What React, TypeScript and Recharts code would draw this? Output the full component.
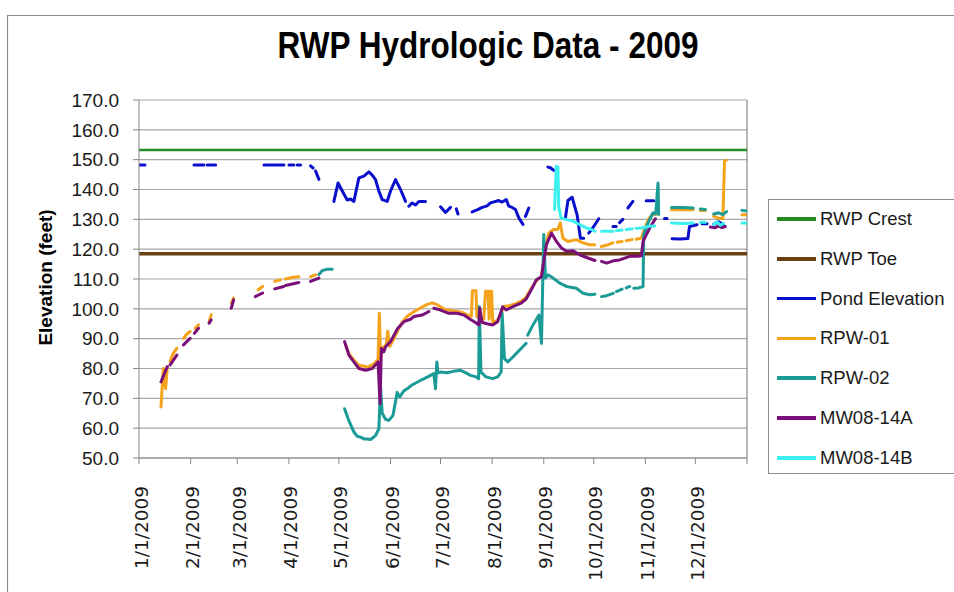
import React from 'react';
import { LineChart, Line, XAxis, YAxis, CartesianGrid, ReferenceLine } from 'recharts';

type Pt = [number, number | null];

// day of year (0 = 1/1/2009) → value in feet; null breaks the line
const monthTicks = [0, 31, 59, 90, 120, 151, 181, 212, 243, 273, 304, 334, 365];
const monthLabels = [
  '1/1/2009', '2/1/2009', '3/1/2009', '4/1/2009', '5/1/2009', '6/1/2009',
  '7/1/2009', '8/1/2009', '9/1/2009', '10/1/2009', '11/1/2009', '12/1/2009', '',
];
const elevationTicks = [50, 60, 70, 80, 90, 100, 110, 120, 130, 140, 150, 160, 170];

const rwpCrest: Pt[] = [[0, 153.2], [365, 153.2]];
const rwpToe: Pt[] = [[0, 118.5], [365, 118.5]];

const pondElevation: Pt[] = [
  [0, 148.2], [3.6, 148.2], [4, null],
  [33, 148.2], [39, 148.2], [39.5, null], [41, 148.2], [46, 148.2], [47, null],
  [75, 148.2], [87, 148.2], [88, null],
  [90, 148.2], [93, 148.2], [93.5, null], [95, 148.2], [97, 148.2], [98, null],
  [103, 147.9], [104.5, 147.2], [105, null], [106, 146.2], [108, 143.4], [109, null],
  [117, 136.0], [119.5, 142.2], [123, 138.5], [125, 136.5], [127, 136.8], [129, 136], [132, 143.9],
  [135, 144.5], [138, 145.9], [140, 144.8], [142, 143.3], [144, 139.5], [146, 136.6], [149, 136],
  [151, 139.5], [154, 143.3], [157, 140], [160, 136], [160.8, null],
  [162, 134.4], [164, 135.5], [166, 134.8], [168, 136], [172, 136], [173, null],
  [181, 134.2], [184, 132.3], [187, 134], [188, null], [190.5, 133.5], [191.5, 131.8], [192, null],
  [200, 132.5], [203, 133.2], [206, 134], [209, 134.5], [211, 135.5], [214, 136], [216, 136.3],
  [218, 135.8], [220.5, 136.6], [222, 134.4], [224, 134], [226, 133.3], [228, 130.5], [230.5, 128.3],
  [231, null], [232, 131], [234, 133.8], [235, null],
  [245.5, 147.5], [247, 147.3], [249, 146.4], [249.5, null],
  [256, 130.5], [257.5, 136.3], [260, 137.4], [263, 131.5], [265, 123.7], [267, 123.7], [268, null],
  [270, 125.4], [273, 127.6], [276, 130.2], [277, null],
  [284.5, 127.6], [286.5, 127.6], [287, null],
  [288.5, 128.9], [290.5, 130], [291, null],
  [293.5, 133.8], [296.5, 136], [297, null],
  [304.5, 136.2], [309, 136.2], [310, null],
  [315.5, 130.3], [317, 130.3], [317.5, null],
  [320, 123.5], [325, 123.4], [329.5, 123.6], [330.5, 127.6], [335, 128.2], [336, null],
  [338, 128.5], [341, 128.5], [342, null],
  [345, 128.3], [348, 129.2], [351, 128], [352, null],
];

const rpw01: Pt[] = [
  [13.2, 67.1], [14.6, 80.0], [16, 73.3], [17, 80.6], [17.8, null],
  [18.7, 82.3], [20.5, 85], [22.7, 86.8], [23.5, null],
  [26.7, 90.1], [28.5, 91.4], [30.7, 92.4], [31.5, null],
  [33.7, 93.5], [35.7, 94.6], [37, null],
  [42.1, 95.7], [43.3, 98], [44, null],
  [55.4, 101.9], [56.8, 103.6], [58, null],
  [71.5, 106.4], [74.2, 107.5], [76, null],
  [81.5, 109.2], [84.9, 109.7], [86, null],
  [87.9, 110], [92, 110.5], [95.9, 110.8], [98, null],
  [103, 110.8], [106, 111.4], [107, null],
  [124, 88.0], [126, 85], [128, 83.5], [131, 81.5], [133, 81], [137, 80.5], [141, 81.5], [143.5, 83],
  [144.3, 98.5], [145, 83], [146, 86.8], [148.5, 88], [149.3, 92.5], [150.5, 87.4], [153, 90],
  [155, 92.4], [158, 95.5], [161, 97.5], [165, 99], [169, 100.3], [173, 101.5], [176, 102],
  [179, 101.4], [184, 99.7], [188, 99.4], [191, 99.1], [194, 98.8], [197, 98], [199.5, 97.5],
  [200.2, 106.1], [202.3, 106.1], [202.8, 97.5], [204, 97], [207, 96.5], [208, 105.9], [209.5, 105.9],
  [210.2, 96.5], [210.8, 105.9], [211.7, 105.9], [212.3, 95.7], [215, 96], [217, 98], [219, 100.8],
  [222, 101], [227, 101.9], [230, 102.8], [232, 103.6], [235, 106.4], [239, 109.7], [241.6, 110.8],
  [243.5, 119.3], [246, 125.4], [248.8, 126.6], [251.4, 126.6], [252.9, 128.8], [254.5, 123.7],
  [257.5, 122.6], [262.5, 123.2], [266.5, 122.1], [270.5, 121.5], [273.5, 121.5], [275, null],
  [277.5, 120.9], [280, 121.2], [284.5, 122.1], [285.5, null], [287, 122.3], [290, 122.6], [291, null],
  [292.5, 122.8], [296, 123.2], [297, null], [298.5, 123.3], [301.6, 123.7], [303.6, 127.1],
  [306, 130.2], [308, 131.5], [311, 131.8], [312, null],
  [319.7, 133.2], [326, 133.3], [332.7, 133.2], [333.5, null],
  [337, 133], [340, 133], [341, null],
  [345, 131], [348, 130.4], [350.5, 130.2], [351.5, 149.5], [352.5, 149.8], [353, null],
  [362, 131.5], [365, 131.5],
];

const rpw02: Pt[] = [
  [108, 111.5], [110, 112.8], [113, 113.3], [116, 113.3], [117, null],
  [123.4, 66.5], [126, 62.5], [129, 58.7], [131, 57.3], [133, 57], [135, 56.4], [137, 56.4],
  [139, 56.2], [142, 57.5], [144, 59.8], [145, 74], [146, 65], [148, 63], [150, 62.6], [152.5, 64.3],
  [155, 72], [156.5, 70.5], [159, 72.5], [161, 73.2], [164, 74.5], [167, 75.4], [170, 76.3],
  [173, 77.1], [177, 78.3], [178, 73.2], [178.8, 82.2], [179.5, 78.5], [181, 78.8], [185, 78.6],
  [187, 78.8], [190, 79.2], [193, 79.4], [196, 78.6], [199, 77.7], [202.3, 77.2], [203.9, 76.6],
  [204.3, 100.7], [205.3, 78.8], [208.3, 77.2], [212.3, 76.6], [215.3, 77.2], [217.4, 78.8],
  [218, 98.5], [219.4, 83.3], [221.4, 82.2], [225.4, 84.4], [230.4, 87.3], [232.4, 88.4], [233, null],
  [233.4, 91.2], [236.5, 94.6], [240.1, 97.9], [241.6, 88.4], [243, 124.9], [244, 110.3],
  [245.5, 111.4], [248.6, 110.3], [252.6, 108.6], [256.6, 107.5], [262.6, 106.9], [266.6, 105.2],
  [270.6, 104.7], [273.7, 104.9], [275, null],
  [277.7, 104.1], [280.7, 104.4], [284.7, 105.2], [285.5, null], [286.6, 105.8], [290, 106.6], [291, null],
  [292.5, 107], [294.6, 107.5], [295.5, null], [297, 106.9], [300, 107], [302.6, 107.5], [303, 124.9],
  [305.6, 128.8], [308.6, 132.2], [310.2, 131.8], [311.6, 142.2], [312, 131.6], [313, null],
  [319.7, 134], [326, 134], [332.7, 133.8], [333.5, null],
  [337, 133.5], [340, 133.3], [341, null],
  [345, 131.8], [348, 132.2], [350.5, 131.6], [352.8, 132.6], [353.5, null],
  [362, 133], [365, 132.8],
];

const mw0814a: Pt[] = [
  [13.2, 75.5], [15.7, 78.9], [17, 80.6], [17.8, null],
  [18.7, 81.2], [22.7, 84.5], [23.5, null],
  [26.7, 87.9], [30.7, 90.1], [31.5, null],
  [33.3, 91.8], [35.7, 93.5], [37, null],
  [42.1, 95.2], [43.3, 96.3], [44, null],
  [55.4, 100.2], [56.8, 103], [58, null],
  [69.8, 104.1], [74.2, 105.3], [76, null],
  [81.5, 106.7], [86.9, 107.5], [87.5, null],
  [87.9, 107.8], [92, 108.3], [95.9, 108.8], [98, null],
  [103, 109.2], [108, 110.3], [109, null],
  [123.4, 89.0], [126, 84.5], [129, 82.2], [132, 80.0], [136, 79.4], [140, 80.0], [143.5, 82.2],
  [144.7, 68.2], [145.5, 86.7], [147, 85.6], [148, 87.3], [151, 89], [155, 93.2], [159, 95.7],
  [163, 96.5], [165, 97.4], [170, 97.9], [174, 99.1], [175, null],
  [177, 100.2], [181, 99.6], [186, 98.5], [191, 98.5], [195, 97.9], [199, 96.4], [202, 95.4],
  [204, 94.6], [204.6, 100.2], [205.9, 95.5], [208.3, 95.1], [212.3, 94.6], [215.3, 95.7],
  [218.3, 100.7], [220.4, 99.6], [224.4, 100.7], [229.4, 101.9], [232.4, 103.3], [235.5, 106.4],
  [238.5, 109.7], [241.6, 110.8], [243, 115.9], [244.6, 121.5], [247.6, 125.4], [250.6, 122.6],
  [253.6, 120.4], [256.6, 119.3], [260.6, 119.5], [264.6, 118.1], [268.7, 117.2], [273.7, 116.2],
  [275, null],
  [277.7, 115.9], [280.7, 115.3], [284.7, 116.1], [288.6, 116.4], [294.6, 117.6], [299.6, 117.6],
  [301.6, 117.8], [302.6, 122.6], [304.6, 124.9], [307, 127.5], [310, 130.2], [311, null],
  [343, 127.4], [346, 127.2], [348, 127.8], [350, 127.2], [352, 127.6], [353, null],
];

const mw0814b: Pt[] = [
  [249.5, 133.3], [250.5, 147.8], [251.5, 147.5], [252, 133.9], [253.4, 130.5], [256.6, 129.9],
  [260.6, 129.4], [264.6, 128.2], [268.7, 127.1], [271.7, 126.6], [273.7, 126.0], [275, null],
  [277.7, 126.0], [284.7, 126.0], [285.5, null], [286.6, 126.2], [290, 126.4], [291, null],
  [292.5, 126.6], [296, 126.8], [297, null], [298.5, 127], [301.6, 127.1], [306.6, 127.7],
  [309.6, 127.8], [310.5, null],
  [319.7, 128.8], [326, 128.6], [332.7, 128.8], [333.5, null],
  [337, 129], [340, 129], [341, null],
  [345, 128.2], [347, 129.2], [349, 128], [351, 128.6], [352, null],
  [362, 128.8], [365, 128.8],
];

const series = [
  { name: 'RWP Crest', color: '#228b22', width: 2.5, points: rwpCrest },
  { name: 'RWP Toe', color: '#6b3e12', width: 3.5, points: rwpToe },
  { name: 'Pond Elevation', color: '#0a0fcc', width: 3, points: pondElevation },
  { name: 'RPW-01', color: '#f5a31a', width: 3, points: rpw01 },
  { name: 'RPW-02', color: '#1a9b96', width: 3, points: rpw02 },
  { name: 'MW08-14A', color: '#7a0f7a', width: 3, points: mw0814a },
  { name: 'MW08-14B', color: '#3cf0f0', width: 3, points: mw0814b },
];

const toRows = (pts: Pt[]) => pts.map(([d, v]) => ({ d, v }));

const DateTick = (props: any) => {
  const { x, y, payload } = props;
  const label = monthLabels[monthTicks.indexOf(payload.value)] ?? '';
  return (
    <text
      x={x + 2}
      y={y}
      transform={`rotate(-90 ${x + 2} ${y})`}
      textAnchor="end"
      dominantBaseline="central"
      fontFamily="'DejaVu Sans', sans-serif"
      fontSize={18.5}
      fill="#1a1a1a"
    >
      {label}
    </text>
  );
};

const App = () => {
  return (
    <div style={{ position: 'absolute', left: 0, top: 0, width: 954, height: 592, background: '#fff' }}>
      <svg width={954} height={592} style={{ position: 'absolute', left: 0, top: 0 }}>
        <path d="M7.5 592 V15.5 H954" fill="none" stroke="#8c8c8c" strokeWidth={1.2} />
        <text
          x={488}
          y={58}
          textAnchor="middle"
          fontFamily="'Liberation Sans', Arial, sans-serif"
          fontWeight="bold"
          fontSize={37}
          textLength={421}
          lengthAdjust="spacingAndGlyphs"
          fill="#000"
        >
          RWP Hydrologic Data - 2009
        </text>
        <text
          x={45.5}
          y={277.5}
          transform="rotate(-90 45.5 277.5)"
          textAnchor="middle"
          dominantBaseline="central"
          fontFamily="'Liberation Sans', Arial, sans-serif"
          fontWeight="bold"
          fontSize={19}
          fill="#000"
        >
          Elevation (feet)
        </text>
      </svg>
      <LineChart
        width={954}
        height={592}
        margin={{ top: 100, right: 207, bottom: 4, left: 0 }}
        style={{ position: 'absolute', left: 0, top: 0 }}
      >
        <CartesianGrid vertical={false} stroke="#a6a6a6" strokeWidth={1.2} />
        <XAxis
          dataKey="d"
          type="number"
          domain={[0, 365]}
          ticks={monthTicks}
          interval={0}
          height={130}
          tickSize={6}
          tickMargin={22}
          stroke="#868686"
          tick={<DateTick />}
          allowDataOverflow
        />
        <YAxis
          type="number"
          domain={[50, 170]}
          ticks={elevationTicks}
          interval={0}
          width={139}
          tickSize={6}
          tickMargin={14}
          stroke="#868686"
          tickFormatter={(v: number) => v.toFixed(1)}
          tick={{ fill: '#1a1a1a', fontSize: 19, fontFamily: "'Liberation Sans', Arial, sans-serif" }}
          allowDataOverflow
        />
        <ReferenceLine x={365} stroke="#868686" strokeWidth={1.2} />
        {series.map((s) => (
          <Line
            key={s.name}
            name={s.name}
            data={toRows(s.points)}
            dataKey="v"
            type="linear"
            stroke={s.color}
            strokeWidth={s.width}
            strokeLinejoin="round"
            strokeLinecap="round"
            dot={false}
            activeDot={false}
            connectNulls={false}
            isAnimationActive={false}
          />
        ))}
      </LineChart>
      <div
        style={{
          position: 'absolute',
          left: 768,
          top: 199,
          width: 200,
          height: 275,
          border: '1px solid #8c8c8c',
          boxSizing: 'border-box',
          background: '#fff',
        }}
      >
        {series.map((s, i) => (
          <div
            key={s.name}
            style={{
              position: 'absolute',
              left: 8,
              top: 19 + i * 39.8 - 12,
              height: 24,
              display: 'flex',
              alignItems: 'center',
              fontFamily: "'Liberation Sans', Arial, sans-serif",
              fontSize: 18.5,
              color: '#1a1a1a',
              whiteSpace: 'nowrap',
            }}
          >
            <span style={{ display: 'inline-block', width: 39, height: 3.5, background: s.color, marginRight: 4 }} />
            {s.name}
          </div>
        ))}
      </div>
    </div>
  );
};

export default App;
